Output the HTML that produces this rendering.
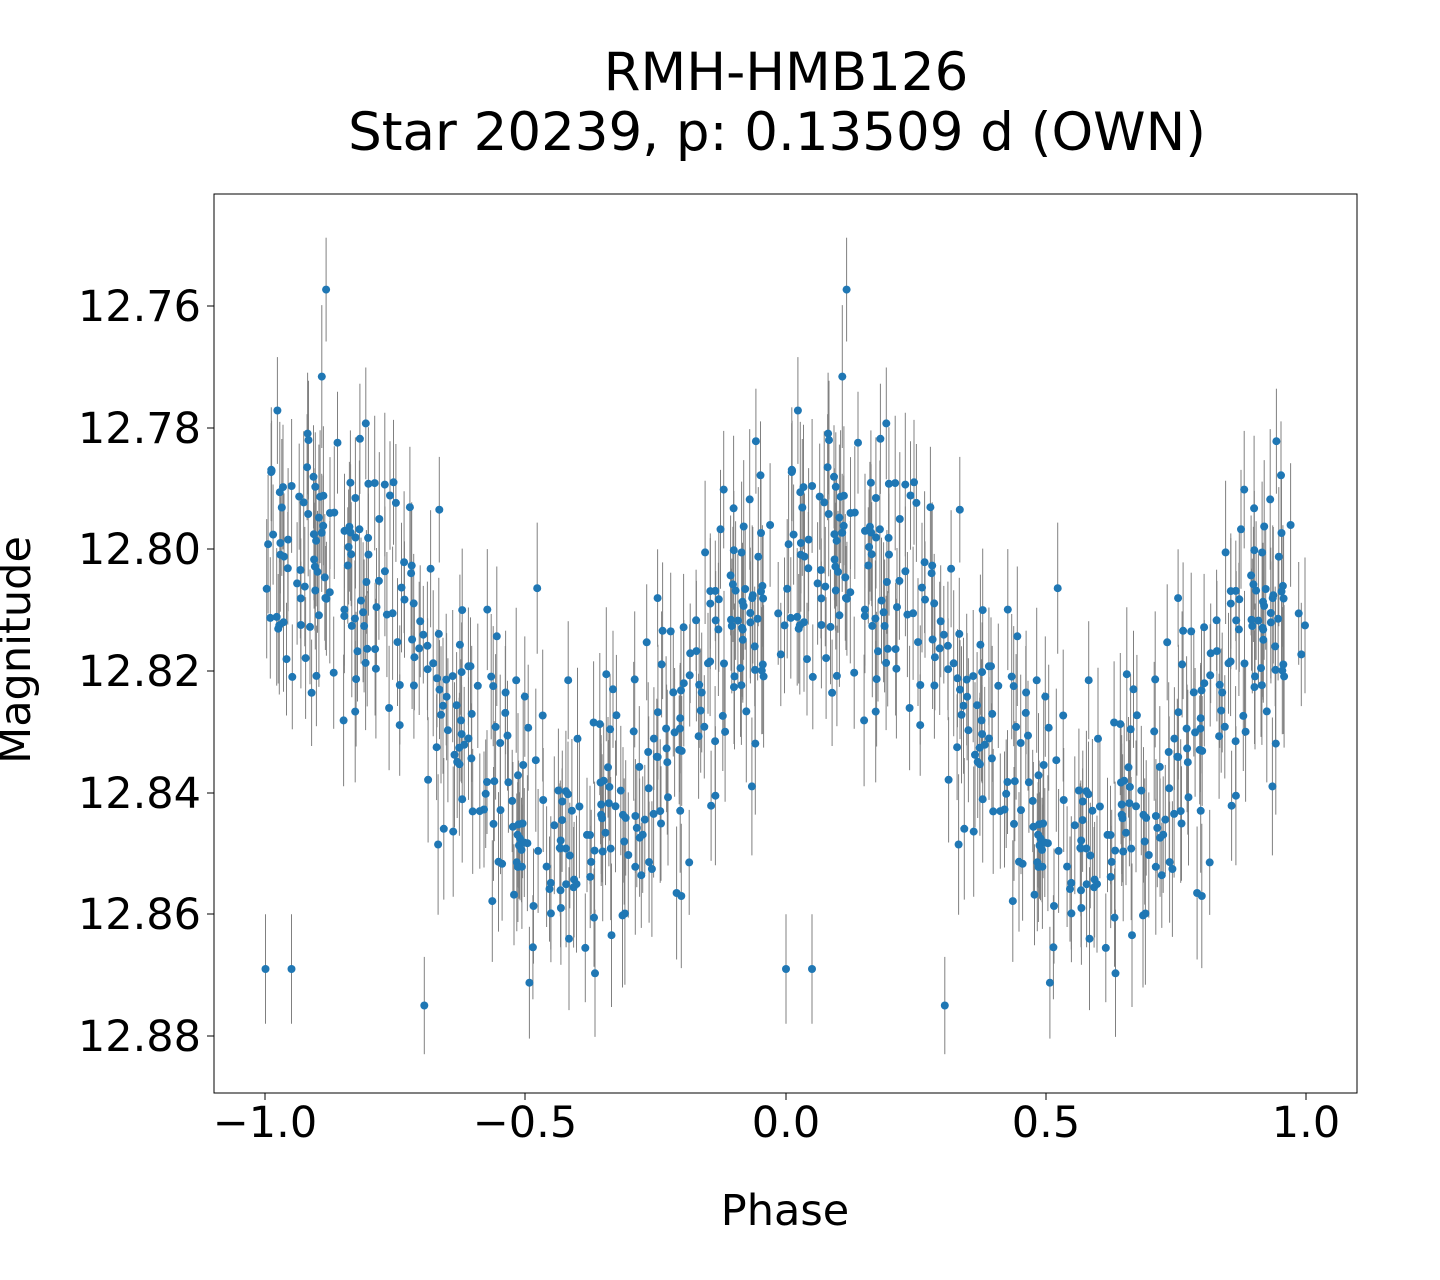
<!DOCTYPE html>
<html><head><meta charset="utf-8"><style>
html,body{margin:0;padding:0;background:#fff}
svg{display:block}
text{font-family:"DejaVu Sans","Liberation Sans",sans-serif;fill:#000}
</style></head><body>
<svg id="s" width="1440" height="1280" viewBox="0 0 1440 1280" xmlns="http://www.w3.org/2000/svg">
<text x="786" y="90" font-size="53" text-anchor="middle">RMH-HMB126</text>
<text x="777" y="150" font-size="53" text-anchor="middle">Star 20239, p: 0.13509 d (OWN)</text>
<g id="eb" stroke="#808080" stroke-width="1"></g>
<g id="pts" fill="#1f77b4"></g>
<rect x="214" y="194" width="1143" height="899" fill="none" stroke="#000" stroke-width="1"/>
<g stroke="#000" stroke-width="1">
<line x1="265" y1="1093" x2="265" y2="1100"/><line x1="525" y1="1093" x2="525" y2="1100"/><line x1="786" y1="1093" x2="786" y2="1100"/><line x1="1046" y1="1093" x2="1046" y2="1100"/><line x1="1306" y1="1093" x2="1306" y2="1100"/>
<line x1="207" y1="306" x2="214" y2="306"/><line x1="207" y1="428" x2="214" y2="428"/><line x1="207" y1="549" x2="214" y2="549"/><line x1="207" y1="671" x2="214" y2="671"/><line x1="207" y1="793" x2="214" y2="793"/><line x1="207" y1="914" x2="214" y2="914"/><line x1="207" y1="1036" x2="214" y2="1036"/>
</g>
<g font-size="43" text-anchor="middle">
<text x="265" y="1137">−1.0</text><text x="525" y="1137">−0.5</text><text x="786" y="1137">0.0</text><text x="1046" y="1137">0.5</text><text x="1306" y="1137">1.0</text>
</g>
<g font-size="43" text-anchor="end">
<text x="201" y="321">12.76</text><text x="201" y="443">12.78</text><text x="201" y="564">12.80</text><text x="201" y="686">12.82</text><text x="201" y="808">12.84</text><text x="201" y="929">12.86</text><text x="201" y="1051">12.88</text>
</g>
<text x="785" y="1225" font-size="43" text-anchor="middle">Phase</text>
<text transform="translate(30,650) rotate(-90)" font-size="43" text-anchor="middle">Magnitude</text>
</svg>
<script>
var seed=987;function r(){seed=(seed*1103515245+12345)%2147483648;return seed/2147483648;}
function g(){var u=r()||1e-9,v=r();return Math.sqrt(-2*Math.log(u))*Math.cos(2*Math.PI*v);}
var eb='',pts='';
function X(p){return 786+p*520.5;}function Y(m){return 306+(m-12.76)*6083;}
function add(p,m,e){for(var k=0;k<2;k++){var pp=p+k;
  eb+='<line x1="'+X(pp).toFixed(1)+'" y1="'+Y(m-e).toFixed(1)+'" x2="'+X(pp).toFixed(1)+'" y2="'+Y(m+e).toFixed(1)+'"/>';
  pts+='<circle cx="'+X(pp).toFixed(1)+'" cy="'+Y(m).toFixed(1)+'" r="4"/>';}}
for(var i=0;i<380;i++){
 var p=-r();var m=12.822-0.025*Math.cos(2*Math.PI*(p-0.1))+g()*0.0135;
 m=Math.max(12.757,Math.min(12.873,m));
 add(p,m,0.008+r()*0.004);
}
add(-1.0,12.869,0.009);add(-0.95,12.869,0.009);add(-0.695,12.875,0.008);
document.getElementById('eb').innerHTML=eb;document.getElementById('pts').innerHTML=pts;
</script>
</body></html>
